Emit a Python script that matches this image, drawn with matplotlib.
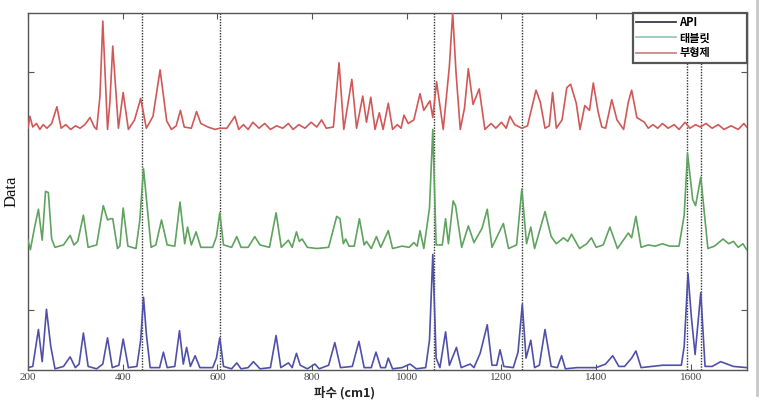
import matplotlib
matplotlib.use("Agg")
import matplotlib.pyplot as plt
from matplotlib.lines import Line2D

# ---------------- data ----------------
series_labels = ["API", "태블릿", "부형제"]
x_ticks = [200, 400, 600, 800, 1000, 1200, 1400, 1600]
marker_lines = [440, 605, 1058, 1243, 1592, 1621]

api_x = [200, 210, 222, 230, 239, 248, 257, 275, 289, 300, 308, 317, 327, 345, 358, 368, 378, 392, 401, 412,
         430, 438, 444, 450, 458, 478, 486, 494, 510, 520, 528, 535, 543, 553, 563, 590, 598, 605, 613, 630,
         641, 650, 665, 676, 690, 712, 724, 734, 750, 758, 767, 775, 790, 806, 815, 835, 848, 860, 885, 899,
         910, 925, 935, 945, 955, 961, 970, 990, 1007, 1020, 1040, 1048, 1055, 1062, 1070, 1082, 1090, 1105, 1115, 1134,
         1142, 1155, 1170, 1180, 1190, 1197, 1205, 1225, 1235, 1244, 1252, 1262, 1270, 1280, 1292, 1305, 1318, 1327, 1335, 1360,
         1400, 1420, 1435, 1448, 1460, 1475, 1484, 1495, 1540, 1580, 1586, 1594, 1601, 1609, 1621, 1630, 1645, 1663, 1690, 1718]
api_y = [0.02, 0.03, 0.34, 0.07, 0.51, 0.20, 0.01, 0.03, 0.11, 0.02, 0.05, 0.31, 0.03, 0.01, 0.05, 0.27, 0.02, 0.04, 0.26, 0.02,
         0.03, 0.25, 0.61, 0.30, 0.02, 0.02, 0.15, 0.02, 0.03, 0.33, 0.05, 0.19, 0.03, 0.12, 0.02, 0.02, 0.10, 0.27, 0.03, 0.01,
         0.06, 0.01, 0.02, 0.07, 0.01, 0.02, 0.29, 0.02, 0.06, 0.02, 0.14, 0.04, 0.01, 0.05, 0.01, 0.04, 0.23, 0.02, 0.03, 0.24,
         0.02, 0.02, 0.15, 0.02, 0.02, 0.10, 0.01, 0.02, 0.05, 0.01, 0.02, 0.25, 0.97, 0.10, 0.02, 0.32, 0.04, 0.19, 0.02, 0.05,
         0.02, 0.14, 0.38, 0.04, 0.04, 0.17, 0.03, 0.02, 0.15, 0.55, 0.10, 0.25, 0.02, 0.04, 0.34, 0.03, 0.02, 0.12, 0.01, 0.02,
         0.02, 0.05, 0.12, 0.03, 0.03, 0.10, 0.16, 0.02, 0.04, 0.04, 0.20, 0.81, 0.45, 0.13, 0.65, 0.03, 0.03, 0.07, 0.03, 0.02]

tab_x = [200, 205, 214, 222, 230, 237, 243, 250, 257, 275, 289, 297, 305, 317, 327, 345, 359, 368, 374, 379,
         389, 394, 401, 411, 428, 436, 444, 451, 460, 470, 482, 494, 510, 521, 531, 537, 545, 555, 565, 590,
         598, 605, 613, 630, 641, 650, 665, 679, 690, 710, 724, 735, 750, 758, 767, 773, 779, 790, 810, 835,
         852, 859, 866, 871, 878, 889, 900, 910, 915, 925, 936, 945, 961, 970, 990, 1005, 1015, 1022, 1028, 1036,
         1048, 1055, 1062, 1075, 1082, 1088, 1098, 1103, 1116, 1130, 1142, 1159, 1170, 1180, 1204, 1215, 1232, 1243, 1253, 1262,
         1270, 1292, 1305, 1316, 1331, 1340, 1348, 1365, 1380, 1390, 1400, 1415, 1429, 1445, 1468, 1475, 1484, 1495, 1510, 1525,
         1540, 1555, 1575, 1586, 1593, 1604, 1610, 1621, 1636, 1650, 1668, 1680, 1690, 1700, 1710, 1718]
tab_y = [0.09, 0.01, 0.20, 0.35, 0.09, 0.50, 0.49, 0.10, 0.03, 0.05, 0.13, 0.05, 0.08, 0.30, 0.03, 0.05, 0.38, 0.26, 0.27, 0.27,
         0.02, 0.04, 0.36, 0.04, 0.02, 0.25, 0.69, 0.40, 0.03, 0.05, 0.26, 0.05, 0.04, 0.41, 0.06, 0.20, 0.05, 0.16, 0.03, 0.03,
         0.12, 0.32, 0.05, 0.03, 0.12, 0.03, 0.03, 0.12, 0.05, 0.03, 0.32, 0.03, 0.09, 0.03, 0.16, 0.08, 0.10, 0.03, 0.02, 0.03,
         0.29, 0.27, 0.06, 0.10, 0.04, 0.04, 0.27, 0.05, 0.08, 0.02, 0.12, 0.03, 0.17, 0.02, 0.04, 0.03, 0.07, 0.04, 0.17, 0.02,
         0.36, 1.02, 0.05, 0.05, 0.27, 0.06, 0.42, 0.38, 0.03, 0.21, 0.07, 0.19, 0.35, 0.03, 0.23, 0.02, 0.05, 0.52, 0.06, 0.20,
         0.02, 0.33, 0.12, 0.06, 0.11, 0.08, 0.14, 0.02, 0.06, 0.11, 0.03, 0.05, 0.20, 0.02, 0.15, 0.11, 0.29, 0.03, 0.05, 0.04,
         0.06, 0.04, 0.04, 0.30, 0.82, 0.43, 0.38, 0.62, 0.02, 0.04, 0.10, 0.06, 0.08, 0.03, 0.06, 0.01]

exc_x = [200, 204, 210, 218, 225, 232, 240, 250, 261, 270, 280, 290, 300, 310, 320, 331, 340, 345, 352, 358,
         368, 373, 379, 391, 401, 412, 425, 438, 450, 464, 479, 493, 503, 513, 522, 530, 545, 556, 565, 580,
         595, 605, 620, 637, 645, 655, 665, 675, 688, 700, 712, 725, 738, 750, 760, 772, 785, 798, 810, 820,
         830, 845, 857, 867, 884, 894, 907, 915, 924, 933, 942, 950, 961, 970, 980, 988, 994, 1003, 1015, 1028,
         1036, 1049, 1055, 1063, 1077, 1090, 1097, 1104, 1113, 1122, 1130, 1140, 1153, 1165, 1178, 1188, 1200, 1210, 1218, 1228,
         1243, 1255, 1273, 1282, 1292, 1301, 1308, 1316, 1328, 1338, 1346, 1358, 1366, 1376, 1386, 1394, 1404, 1412, 1420, 1433,
         1444, 1458, 1468, 1475, 1486, 1502, 1510, 1520, 1530, 1540, 1552, 1565, 1575, 1588, 1598, 1610, 1620, 1632, 1645, 1658,
         1670, 1685, 1700, 1712, 1718]
exc_y = [0.03, 0.13, 0.04, 0.07, 0.02, 0.06, 0.03, 0.07, 0.21, 0.03, 0.06, 0.02, 0.05, 0.03, 0.06, 0.12, 0.04, 0.02, 0.30, 0.93,
         0.02, 0.25, 0.72, 0.03, 0.33, 0.02, 0.10, 0.28, 0.03, 0.13, 0.52, 0.09, 0.02, 0.05, 0.18, 0.04, 0.03, 0.17, 0.07, 0.04,
         0.02, 0.03, 0.03, 0.13, 0.02, 0.06, 0.02, 0.08, 0.03, 0.07, 0.02, 0.05, 0.03, 0.07, 0.02, 0.06, 0.03, 0.08, 0.04, 0.10,
         0.03, 0.04, 0.58, 0.02, 0.44, 0.03, 0.30, 0.08, 0.29, 0.02, 0.16, 0.02, 0.24, 0.02, 0.06, 0.03, 0.14, 0.07, 0.10, 0.32,
         0.18, 0.26, 0.12, 0.42, 0.02, 0.55, 1.00, 0.50, 0.02, 0.20, 0.53, 0.23, 0.36, 0.02, 0.07, 0.03, 0.08, 0.03, 0.13, 0.06,
         0.03, 0.05, 0.35, 0.25, 0.03, 0.05, 0.33, 0.03, 0.10, 0.37, 0.40, 0.24, 0.02, 0.22, 0.18, 0.41, 0.17, 0.04, 0.03, 0.27,
         0.10, 0.02, 0.25, 0.35, 0.12, 0.08, 0.03, 0.06, 0.03, 0.07, 0.03, 0.06, 0.02, 0.08, 0.03, 0.06, 0.04, 0.07, 0.03, 0.06,
         0.02, 0.05, 0.02, 0.07, 0.04]

# ---------------- figure ----------------
W, H = 773, 413
fig = plt.figure(figsize=(W / 100, H / 100), dpi=100)
ax_left, ax_right, ax_top, ax_bottom = 28, 746.7, 12.7, 370
ax = fig.add_axes([ax_left / W, 1 - ax_bottom / H, (ax_right - ax_left) / W, (ax_bottom - ax_top) / H])

colors = ["#5050aa", "#5fa35f", "#d25858"]
offsets = [0, 1, 2]
for (xs, ys), c, off in zip([(api_x, api_y), (tab_x, tab_y), (exc_x, exc_y)], colors, offsets):
    ax.plot(xs, [v + off for v in ys], color=c, lw=1.2, zorder=3, solid_joinstyle="round")

for xv in marker_lines:
    ax.axvline(xv, color="#333333", lw=1.0, ls=(0, (1, 1)), zorder=2)

ax.set_xlim(200, 1718)
ax.set_ylim(0, 3)
ax.set_xticks(x_ticks)
ax.set_xticklabels([str(t) for t in x_ticks], fontfamily="Liberation Serif", fontsize=8, color="#444444")
ax.set_yticks([0.5, 2.5])
ax.set_yticklabels([])
ax.tick_params(axis="both", direction="in", top=True, right=True, length=4, width=0.8, color="#555555", pad=2)
for s in ax.spines.values():
    s.set_color("#555555")
    s.set_linewidth(1.0)

ax.set_xlabel("파수 (cm1)", fontfamily=["Noto Sans CJK KR", "DejaVu Sans"], fontsize=9, fontweight="bold",
              color="#222222", labelpad=1)
ax.xaxis.set_label_coords((345 - ax_left) / (ax_right - ax_left), -0.045)
ax.set_ylabel("Data", fontfamily="Liberation Serif", fontsize=12, color="#111111", labelpad=4)

legend_colors = ["#3a3a4a", "#9cc8b8", "#d08484"]
handles = [Line2D([0], [0], color=c, lw=1.3) for c in legend_colors]
lx0 = (633 - ax_left) / (ax_right - ax_left)
lh = 41 / (ax_bottom - ax_top)
leg = ax.legend(handles, series_labels, loc="upper left", bbox_to_anchor=(lx0, 1 - lh, 1 - lx0, lh),
                mode="expand", borderaxespad=0, fancybox=False,
                framealpha=1, edgecolor="#555555", handlelength=3.6, handletextpad=0.25,
                labelspacing=0.2, borderpad=0.3,
                prop={"family": ["Noto Sans CJK KR", "DejaVu Sans"], "size": 8, "weight": "bold"})
leg.get_frame().set_linewidth(1.6)
leg.set_zorder(5)

# right-hand gray border seen in the reference screenshot
fig.add_artist(Line2D([757 / W, 757 / W], [1 - 395 / H, 1.0], color="#c8c8c8", lw=2, transform=fig.transFigure))

fig.savefig("out.png", dpi=100)
